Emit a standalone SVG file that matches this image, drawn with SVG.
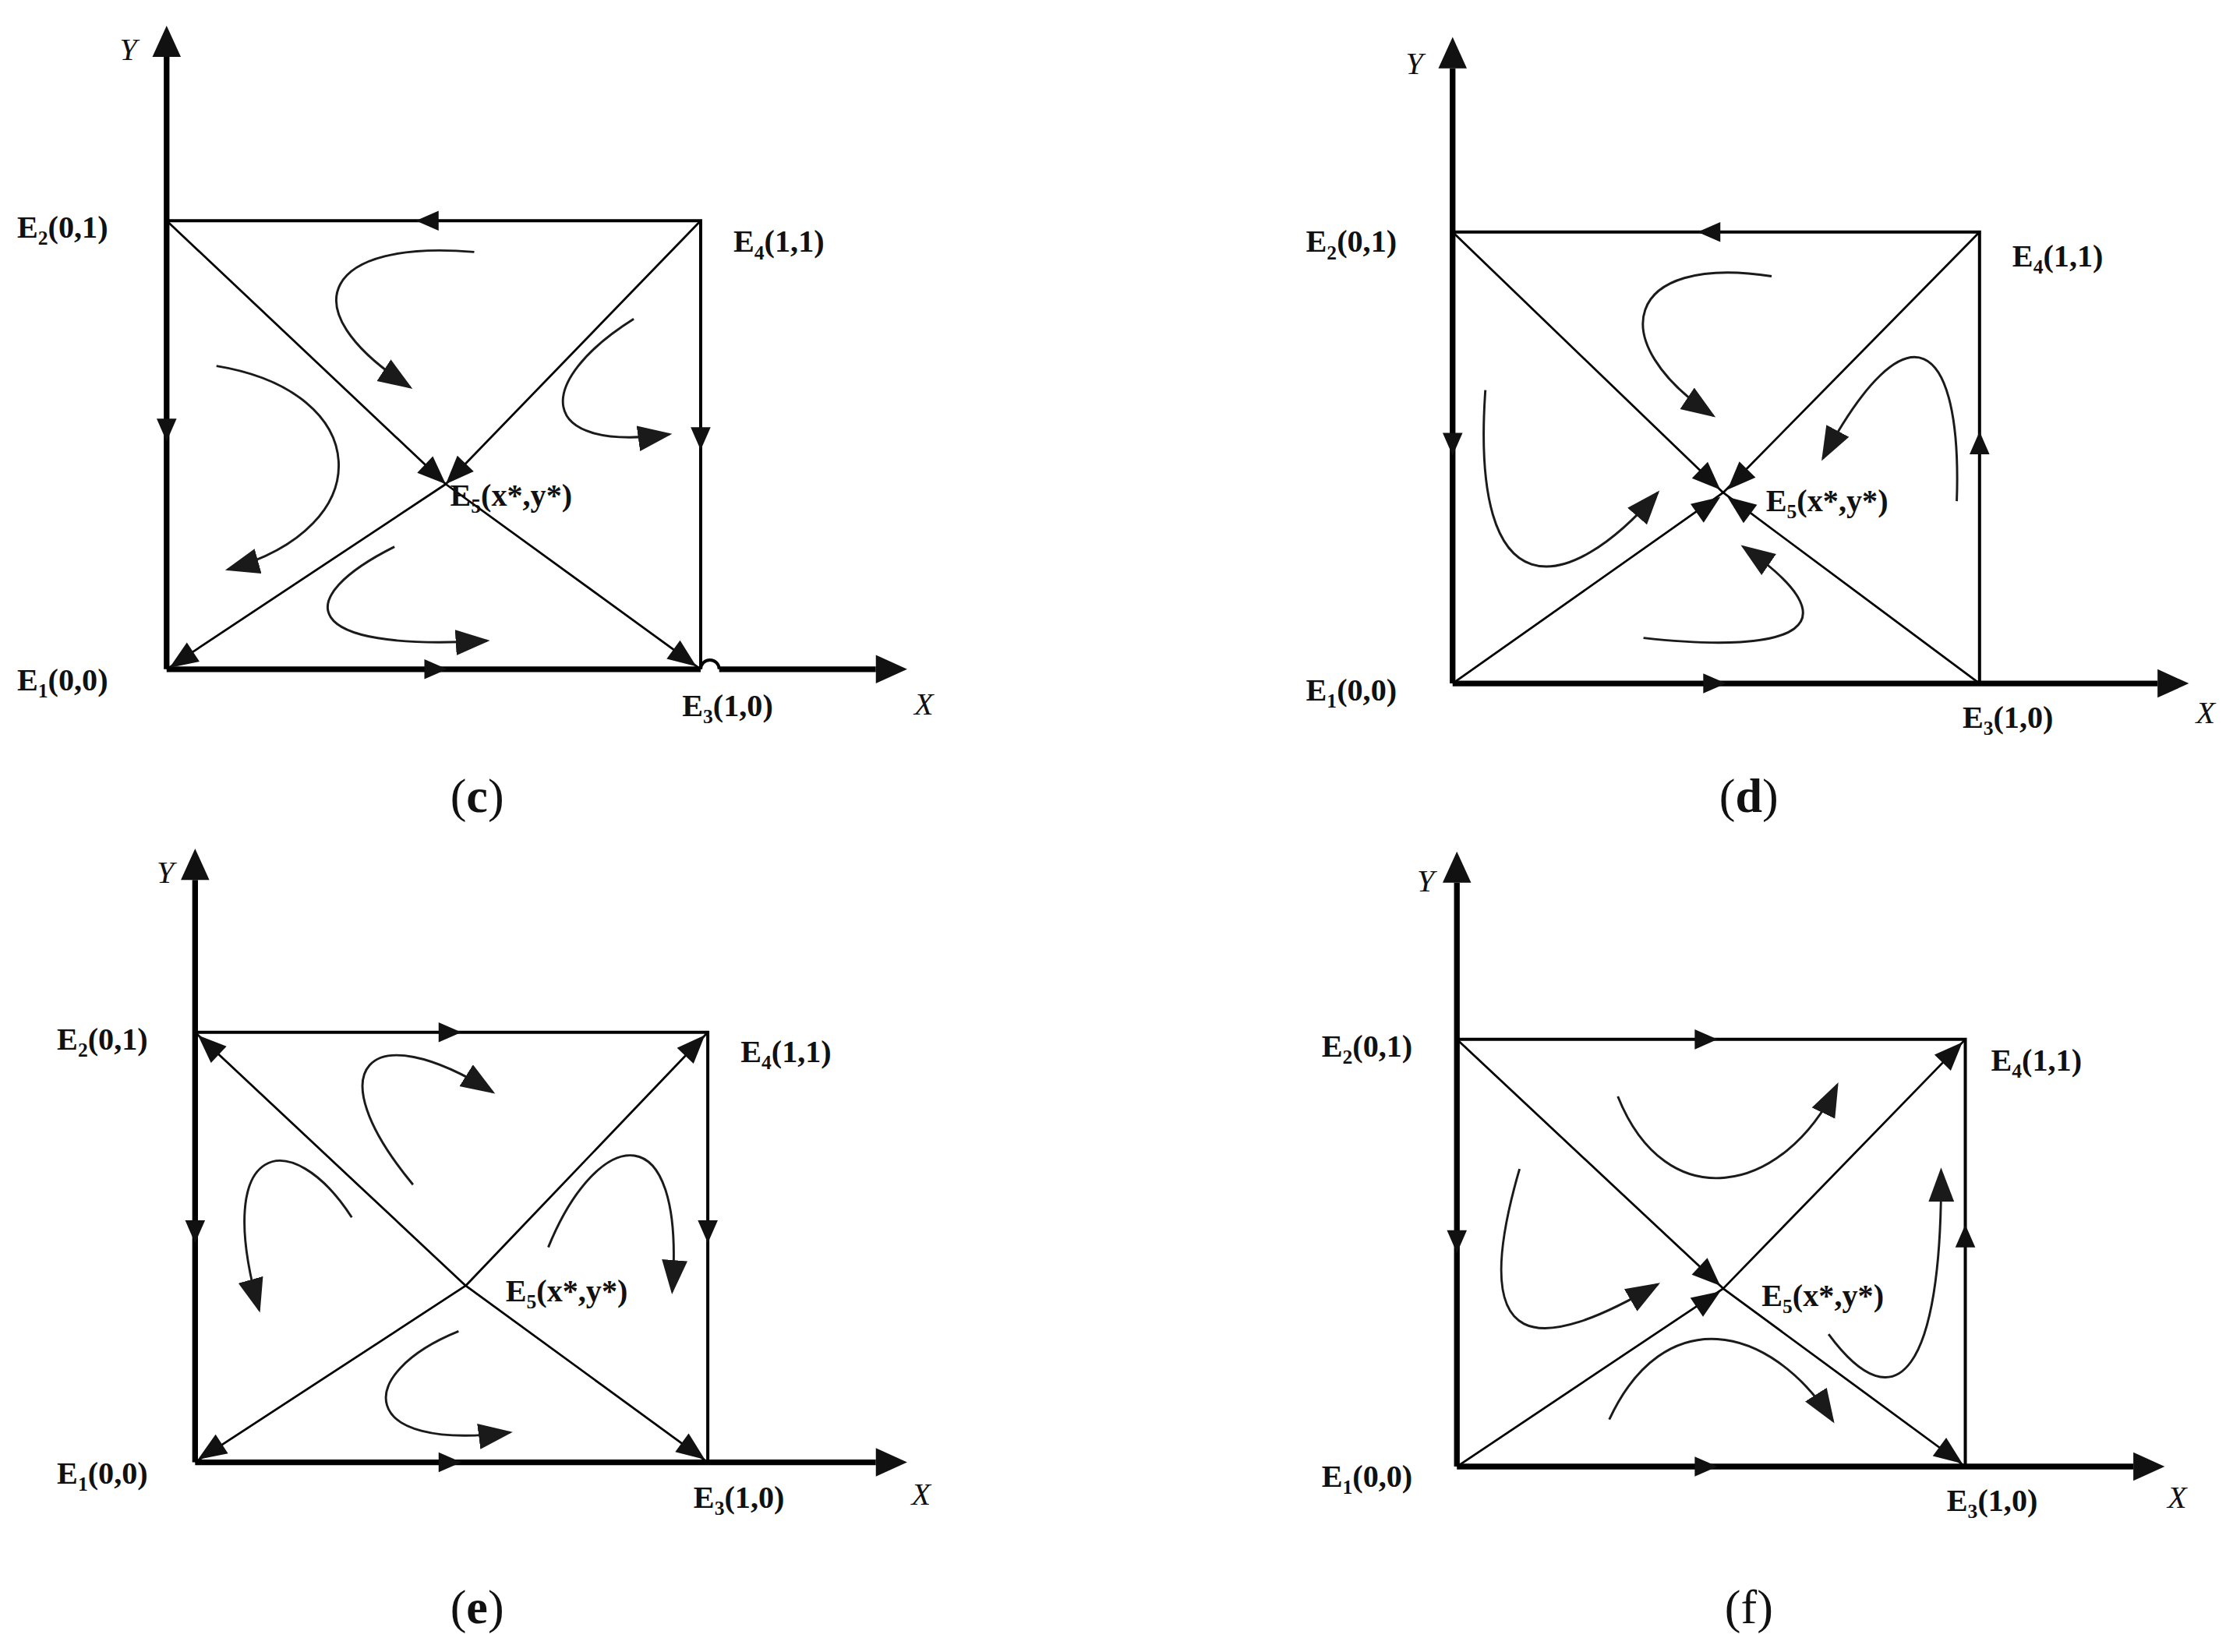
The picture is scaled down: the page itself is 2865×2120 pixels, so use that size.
<svg xmlns="http://www.w3.org/2000/svg" xmlns:xlink="http://www.w3.org/1999/xlink" width="2865" height="2120" viewBox="0 0 2865 2120">
<style>
.ax{stroke:#000;stroke-width:4;fill:none}
.ed{stroke:#000;stroke-width:2.2;fill:none}
.dg{stroke:#000;stroke-width:1.5;fill:none}
.cv{stroke:#1a1a1a;stroke-width:1.6;fill:none;marker-end:url(#ah)}
.lb{font-family:"Liberation Serif",serif;font-weight:bold;font-size:22px;fill:#111}
.sb{font-size:14px}
.xy{font-family:"Liberation Serif",serif;font-style:italic;font-size:22px;fill:#111}
.cap{font-family:"Liberation Serif",serif;font-size:34px;fill:#111}
.tr{fill:#111}
</style>
<defs>
<marker id="ah" markerUnits="userSpaceOnUse" markerWidth="30" markerHeight="24" refX="22" refY="9" orient="auto"><path d="M0,0 L24,9 L0,18 Z" fill="#1a1a1a"/></marker>
<path id="t" d="M0,0 L-16,-7 L-16,7 Z"/>
<path id="ta" d="M0,0 L-22,-10 L-22,10 Z"/>
<path id="td" d="M0,0 L-20,-8 L-20,8 Z"/>
</defs>
<rect width="2865" height="2120" fill="#fff"/>
<g transform="scale(1.8272)">
<!-- panel c -->
<g id="panel-c">
<line class="ax" x1="117" y1="40" x2="117" y2="470"/>
<line class="ax" x1="117" y1="470" x2="492" y2="470"/>
<path class="ax" d="M505,470 L615,470"/>
<path class="ed" d="M492,470 a6.5,6.5 0 0 1 13,0" stroke-width="3"/>
<use href="#ta" class="tr" transform="translate(117,18) rotate(-90)"/>
<use href="#ta" class="tr" transform="translate(637,470)"/>
<polyline class="ed" points="117,155 492,155 492,470"/>
<line class="dg" x1="117" y1="155" x2="313" y2="340"/>
<line class="dg" x1="492" y1="155" x2="313" y2="340"/>
<line class="dg" x1="117" y1="470" x2="313" y2="340"/>
<line class="dg" x1="492" y1="470" x2="313" y2="340"/>
<use href="#t" class="tr" transform="translate(292,155) rotate(180)"/>
<use href="#t" class="tr" transform="translate(117,310) rotate(90)"/>
<use href="#t" class="tr" transform="translate(492,316) rotate(90)"/>
<use href="#t" class="tr" transform="translate(314,470)"/>
<use href="#td" class="tr" transform="translate(313,340) rotate(43.3)"/>
<use href="#td" class="tr" transform="translate(313,340) rotate(134)"/>
<use href="#td" class="tr" transform="translate(119,469) rotate(146.4)"/>
<use href="#td" class="tr" transform="translate(489,468) rotate(36)"/>
<path class="cv" d="M333,177 C230,168 200,215 288,272"/>
<path class="cv" d="M152,257 C262,275 268,370 160,400"/>
<path class="cv" d="M445,224 C375,268 375,318 470,305"/>
<path class="cv" d="M277,384 C205,420 208,458 342,450"/>
<text class="xy" x="84" y="42">Y</text>
<text class="xy" x="642" y="502">X</text>
<text class="lb" x="12" y="167">E<tspan class="sb" dy="5">2</tspan><tspan dy="-5">(0,1)</tspan></text>
<text class="lb" x="515" y="177">E<tspan class="sb" dy="5">4</tspan><tspan dy="-5">(1,1)</tspan></text>
<text class="lb" x="316" y="355">E<tspan class="sb" dy="5">5</tspan><tspan dy="-5">(x*,y*)</tspan></text>
<text class="lb" x="12" y="485">E<tspan class="sb" dy="5">1</tspan><tspan dy="-5">(0,0)</tspan></text>
<text class="lb" x="479" y="503">E<tspan class="sb" dy="5">3</tspan><tspan dy="-5">(1,0)</tspan></text>
<text class="cap" x="335" y="570" text-anchor="middle">(<tspan font-weight="bold">c</tspan>)</text>
</g>
<!-- panel d -->
<g id="panel-d">
<line class="ax" x1="1020" y1="48" x2="1020" y2="480"/>
<line class="ax" x1="1020" y1="480" x2="1515" y2="480"/>
<use href="#ta" class="tr" transform="translate(1020,26) rotate(-90)"/>
<use href="#ta" class="tr" transform="translate(1537,480)"/>
<polyline class="ed" points="1020,163 1390,163 1390,480"/>
<line class="dg" x1="1020" y1="163" x2="1210" y2="346"/>
<line class="dg" x1="1390" y1="163" x2="1210" y2="346"/>
<line class="dg" x1="1020" y1="480" x2="1210" y2="346"/>
<line class="dg" x1="1390" y1="480" x2="1210" y2="346"/>
<use href="#t" class="tr" transform="translate(1192,163) rotate(180)"/>
<use href="#t" class="tr" transform="translate(1020,320) rotate(90)"/>
<use href="#t" class="tr" transform="translate(1390,303) rotate(-90)"/>
<use href="#t" class="tr" transform="translate(1212,480)"/>
<use href="#td" class="tr" transform="translate(1208,344) rotate(43.9)"/>
<use href="#td" class="tr" transform="translate(1213,344) rotate(134.5)"/>
<use href="#td" class="tr" transform="translate(1208,349) rotate(-35.2)"/>
<use href="#td" class="tr" transform="translate(1213,349) rotate(-143.3)"/>
<path class="cv" d="M1244,194 C1140,178 1125,240 1203,292"/>
<path class="cv" d="M1374,352 C1378,238 1340,210 1280,322"/>
<path class="cv" d="M1043,274 C1032,430 1100,420 1164,346"/>
<path class="cv" d="M1154,448 C1262,460 1305,440 1224,384"/>
<text class="xy" x="987" y="52">Y</text>
<text class="xy" x="1542" y="508">X</text>
<text class="lb" x="917" y="177">E<tspan class="sb" dy="5">2</tspan><tspan dy="-5">(0,1)</tspan></text>
<text class="lb" x="1413" y="187">E<tspan class="sb" dy="5">4</tspan><tspan dy="-5">(1,1)</tspan></text>
<text class="lb" x="1240" y="359">E<tspan class="sb" dy="5">5</tspan><tspan dy="-5">(x*,y*)</tspan></text>
<text class="lb" x="917" y="492">E<tspan class="sb" dy="5">1</tspan><tspan dy="-5">(0,0)</tspan></text>
<text class="lb" x="1378" y="511">E<tspan class="sb" dy="5">3</tspan><tspan dy="-5">(1,0)</tspan></text>
<text class="cap" x="1228" y="570" text-anchor="middle">(<tspan font-weight="bold">d</tspan>)</text>
</g>
<!-- panel e -->
<g id="panel-e">
<line class="ax" x1="137" y1="618" x2="137" y2="1027"/>
<line class="ax" x1="137" y1="1027" x2="615" y2="1027"/>
<use href="#ta" class="tr" transform="translate(137,596) rotate(-90)"/>
<use href="#ta" class="tr" transform="translate(637,1027)"/>
<polyline class="ed" points="137,725 497,725 497,1027"/>
<line class="dg" x1="137" y1="725" x2="327" y2="903"/>
<line class="dg" x1="497" y1="725" x2="327" y2="903"/>
<line class="dg" x1="137" y1="1027" x2="327" y2="903"/>
<line class="dg" x1="497" y1="1027" x2="327" y2="903"/>
<use href="#t" class="tr" transform="translate(324,725)"/>
<use href="#t" class="tr" transform="translate(137,873) rotate(90)"/>
<use href="#t" class="tr" transform="translate(497,873) rotate(90)"/>
<use href="#t" class="tr" transform="translate(324,1027)"/>
<use href="#td" class="tr" transform="translate(139,727) rotate(-136.9)"/>
<use href="#td" class="tr" transform="translate(495,727) rotate(-46.3)"/>
<use href="#td" class="tr" transform="translate(139,1025) rotate(146.9)"/>
<use href="#td" class="tr" transform="translate(495,1025) rotate(36.1)"/>
<path class="cv" d="M290,832 C222,750 258,712 346,767"/>
<path class="cv" d="M247,855 C205,790 148,800 182,920"/>
<path class="cv" d="M385,876 C420,790 482,780 472,907"/>
<path class="cv" d="M322,935 C248,965 250,1020 358,1006"/>
<text class="xy" x="110" y="620">Y</text>
<text class="xy" x="640" y="1057">X</text>
<text class="lb" x="40" y="737">E<tspan class="sb" dy="5">2</tspan><tspan dy="-5">(0,1)</tspan></text>
<text class="lb" x="520" y="746">E<tspan class="sb" dy="5">4</tspan><tspan dy="-5">(1,1)</tspan></text>
<text class="lb" x="355" y="914">E<tspan class="sb" dy="5">5</tspan><tspan dy="-5">(x*,y*)</tspan></text>
<text class="lb" x="40" y="1042">E<tspan class="sb" dy="5">1</tspan><tspan dy="-5">(0,0)</tspan></text>
<text class="lb" x="487" y="1059">E<tspan class="sb" dy="5">3</tspan><tspan dy="-5">(1,0)</tspan></text>
<text class="cap" x="335" y="1140" text-anchor="middle">(<tspan font-weight="bold">e</tspan>)</text>
</g>
<!-- panel f -->
<g id="panel-f">
<line class="ax" x1="1023" y1="620" x2="1023" y2="1030"/>
<line class="ax" x1="1023" y1="1030" x2="1498" y2="1030"/>
<use href="#ta" class="tr" transform="translate(1023,598) rotate(-90)"/>
<use href="#ta" class="tr" transform="translate(1520,1030)"/>
<polyline class="ed" points="1023,730 1380,730 1380,1030"/>
<line class="dg" x1="1023" y1="730" x2="1210" y2="905"/>
<line class="dg" x1="1380" y1="730" x2="1210" y2="905"/>
<line class="dg" x1="1023" y1="1030" x2="1210" y2="905"/>
<line class="dg" x1="1380" y1="1030" x2="1210" y2="905"/>
<use href="#t" class="tr" transform="translate(1206,730)"/>
<use href="#t" class="tr" transform="translate(1023,880) rotate(90)"/>
<use href="#t" class="tr" transform="translate(1380,860) rotate(-90)"/>
<use href="#t" class="tr" transform="translate(1206,1030)"/>
<use href="#td" class="tr" transform="translate(1208,903) rotate(43.1)"/>
<use href="#td" class="tr" transform="translate(1208,907) rotate(-33.8)"/>
<use href="#td" class="tr" transform="translate(1378,732) rotate(-45.8)"/>
<use href="#td" class="tr" transform="translate(1378,1028) rotate(36.3)"/>
<path class="cv" d="M1136,770 C1170,855 1252,840 1290,762"/>
<path class="cv" d="M1067,821 C1028,955 1082,950 1164,902"/>
<path class="cv" d="M1130,997 C1168,915 1242,928 1287,998"/>
<path class="cv" d="M1284,937 C1332,1002 1364,962 1363,822"/>
<text class="xy" x="995" y="626">Y</text>
<text class="xy" x="1522" y="1059">X</text>
<text class="lb" x="928" y="742">E<tspan class="sb" dy="5">2</tspan><tspan dy="-5">(0,1)</tspan></text>
<text class="lb" x="1398" y="752">E<tspan class="sb" dy="5">4</tspan><tspan dy="-5">(1,1)</tspan></text>
<text class="lb" x="1237" y="917">E<tspan class="sb" dy="5">5</tspan><tspan dy="-5">(x*,y*)</tspan></text>
<text class="lb" x="928" y="1044">E<tspan class="sb" dy="5">1</tspan><tspan dy="-5">(0,0)</tspan></text>
<text class="lb" x="1367" y="1061">E<tspan class="sb" dy="5">3</tspan><tspan dy="-5">(1,0)</tspan></text>
<text class="cap" x="1228" y="1140" text-anchor="middle">(f)</text>
</g>
</g>
</svg>
